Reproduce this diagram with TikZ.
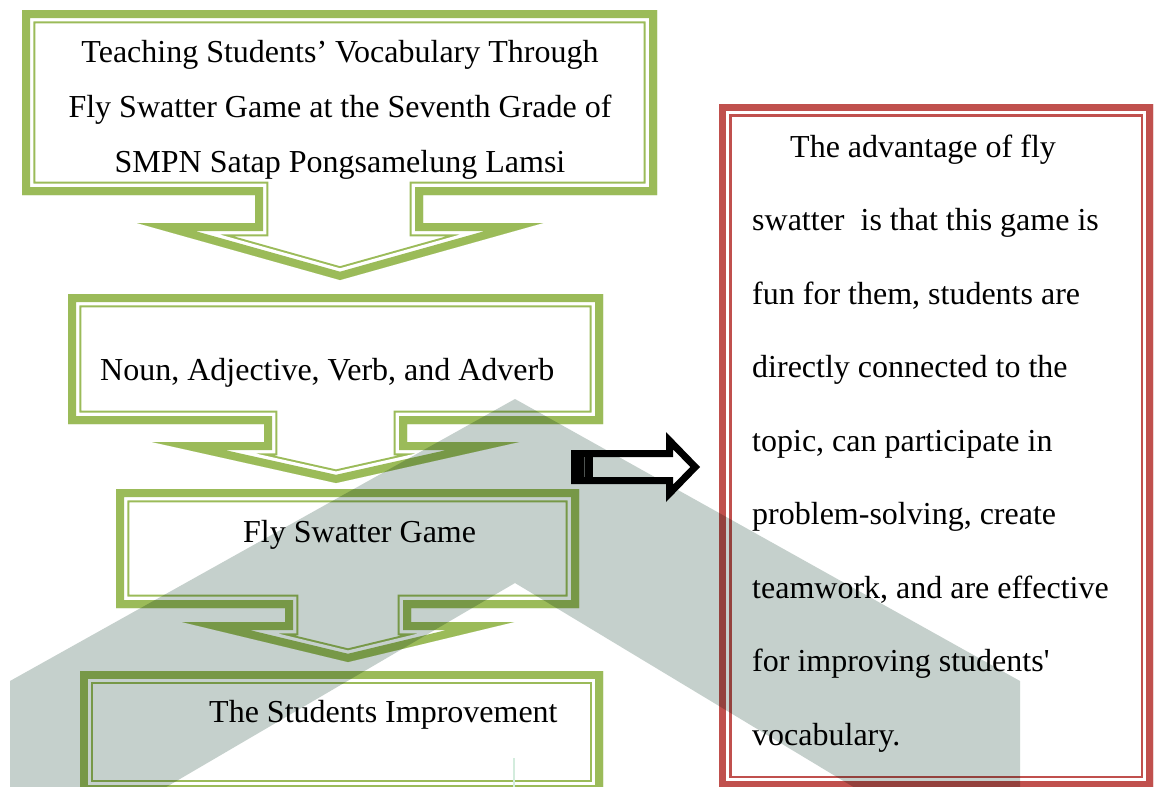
\documentclass[tikz,border=0pt]{standalone}
\usepackage{fontspec}
\setmainfont{Liberation Serif}[Ligatures=TeXOff]
\definecolor{gcol}{HTML}{9BBB59}
\definecolor{rcol}{HTML}{C0504D}
\definecolor{wmcol}{HTML}{C5D0CC}
\definecolor{wmline}{HTML}{D3ECDD}
\newcommand\compframe[5]{%
  \begin{scope}
    \clip #5;
    \draw[#1, line width=#2] #5;
    \draw[white, line width=#3] #5;
    \draw[#1, line width=#4] #5;
  \end{scope}}
\tikzset{
  txt/.style={font=\fontsize{32}{38}\selectfont, inner sep=0pt, text=black},
}
\begin{document}
\begin{tikzpicture}[x=1pt, y=-1pt, line join=miter, miter limit=20]
\useasboundingbox (0,0) rectangle (1154,787);
\clip (0,0) rectangle (1154,787);
\fill[white] (0,0) rectangle (1154,787);

% green callout boxes
\compframe{gcol}{26.6pt}{22.6pt}{16pt}{(22,10) -- (657,10) -- (657,195) -- (423,195) -- (423,223) -- (543,223) -- (340,280) -- (137,223) -- (255,223) -- (255,195) -- (22,195) -- cycle}
\compframe{gcol}{26.6pt}{22.6pt}{16pt}{(68,294) -- (603,294) -- (603,424) -- (407,424) -- (407,442) -- (519,442) -- (336,483) -- (152,442) -- (264,442) -- (264,424) -- (68,424) -- cycle}
\compframe{gcol}{26.6pt}{22.6pt}{16pt}{(116,489) -- (579,489) -- (579,608) -- (411,608) -- (411,622) -- (514,622) -- (348,662) -- (182,622) -- (285,622) -- (285,608) -- (116,608) -- cycle}
\compframe{gcol}{26.6pt}{22.6pt}{16pt}{(80,671) -- (603,671) -- (603,793) -- (80,793) -- cycle}

% red box
\compframe{rcol}{25pt}{20pt}{14.6pt}{(719,104) -- (1153,104) -- (1153,788) -- (719,788) -- cycle}

% black block arrow
\begin{scope}
  \clip (571,450) -- (666,450) -- (666,432) -- (700,467) -- (666,502) -- (666,484) -- (571,484) -- cycle;
  \draw[black, line width=14pt] (571,450) -- (666,450) -- (666,432) -- (700,467) -- (666,502) -- (666,484) -- (571,484) -- cycle;
\end{scope}
\fill[black] (571,450) rectangle (593,484);
\draw[black!60, line width=1.5pt] (584.5,457) -- (584.5,477);

% texts
\node[txt, anchor=base] (t1a) at (340,62) {Teaching Students’ Vocabulary Through};
\node[txt, anchor=base] (t1b) at (340,117) {Fly Swatter Game at the Seventh Grade of};
\node[txt, anchor=base] (t1c) at (340,172) {SMPN Satap Pongsamelung Lamsi};
\node[txt, anchor=base west] (t2) at (100,380) {Noun, Adjective, Verb, and Adverb};
\node[txt, anchor=base west] (t3) at (243,542) {Fly Swatter Game};
\node[txt, anchor=base west] (t4) at (209,722) {The Students Improvement};

\node[txt, anchor=base west] (r1) at (790,157) {The advantage of fly};
\node[txt, anchor=base west] (r2) at (752,230.5) {swatter\ \ is that this game is};
\node[txt, anchor=base west] (r3) at (752,304) {fun for them, students are};
\node[txt, anchor=base west] (r4) at (752,377.5) {directly connected to the};
\node[txt, anchor=base west] (r5) at (752,451) {topic, can participate in};
\node[txt, anchor=base west] (r6) at (752,524.5) {problem-solving, create};
\node[txt, anchor=base west] (r7) at (752,598) {teamwork, and are effective};
\node[txt, anchor=base west] (r8) at (752,671.5) {for improving students'};
\node[txt, anchor=base west] (r9) at (752,745) {vocabulary.};

% watermark
\fill[wmcol, blend mode=multiply] (10,800) -- (10,681) -- (515,399) -- (1020,681) -- (1020,800) -- (875,800) -- (515,583) -- (144,800) -- cycle;
\draw[wmline, line width=2pt] (514,758) -- (514,795);
\end{tikzpicture}
\end{document}
